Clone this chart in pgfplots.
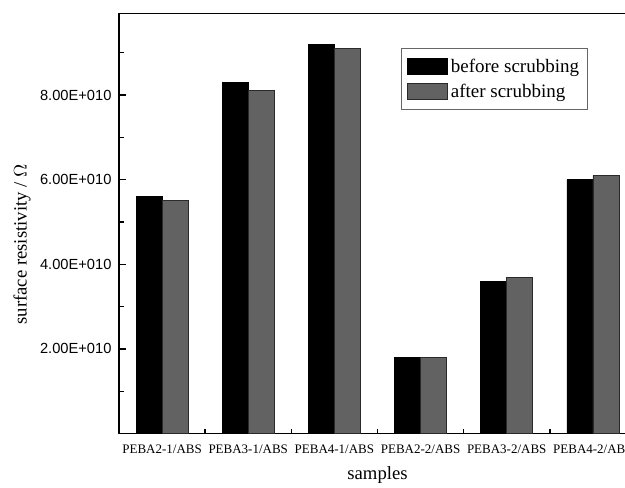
\documentclass[border=0pt]{standalone}
\usepackage{pgfplots}
\pgfplotsset{compat=1.18}
\usepackage{fontspec}
\setmainfont{Liberation Serif}
\newfontfamily\arial{Liberation Sans}
\definecolor{bargray}{HTML}{626262}
\definecolor{edgegray}{HTML}{2A2A2A}
\begin{document}
\begin{tikzpicture}
\begin{axis}[
  scale only axis, width=310.2pt, height=252pt,
  at={(0,0)}, anchor=south west,
  ybar=0pt, bar width=15.6pt,
  xmin=-0.5, xmax=5.5, ymin=0, ymax=9.93e10,
  xtick={0,...,5},
  xticklabels={PEBA2-1/ABS,PEBA3-1/ABS,PEBA4-1/ABS,PEBA2-2/ABS,PEBA3-2/ABS,PEBA4-2/ABS},
  major x tick style={draw=none},
  minor xtick={0.5,1.5,2.5,3.5,4.5},
  ytick={2e10,4e10,6e10,8e10},
  yticklabels={2.00E+010,4.00E+010,6.00E+010,8.00E+010},
  minor ytick={1e10,3e10,5e10,7e10,9e10},
  scaled y ticks=false,
  xtick pos=bottom, ytick pos=left,
  tick align=inside,
  major tick length=4.2pt, minor tick length=3pt,
  every tick/.style={black, line width=0.8pt},
  axis line style={line width=0.9pt},
  yticklabel style={font=\arial\fontsize{8.8}{10}\selectfont, xshift=-1pt},
  xticklabel style={font=\fontsize{7.8}{9}\selectfont, yshift=-3.5pt},
  xlabel={samples},
  ylabel={surface resistivity / $\Omega$},
  label style={font=\fontsize{11.2}{13}\selectfont},
  xlabel style={at={(axis description cs:0.5,-0.1)}, anchor=center},
  ylabel style={at={(axis description cs:-0.1876,0.45)}, anchor=center},
  legend style={at={(0.907,0.9175)}, anchor=north east, draw=gray!80!black, line width=0.6pt,
    font=\fontsize{11.4}{13}\selectfont, row sep=1.5pt, inner xsep=3pt, inner ysep=4pt},
  legend cell align=left,
  legend image code/.code={\draw[#1, line width=0.5pt] (0pt,-4.8pt) rectangle (24pt,4.8pt);},
]
\addplot[fill=black, draw=black, line width=0.5pt] coordinates {(0,5.6e10) (1,8.3e10) (2,9.2e10) (3,1.8e10) (4,3.6e10) (5,6.0e10)};
\addplot[fill=bargray, draw=edgegray, line width=0.5pt] coordinates {(0,5.5e10) (1,8.1e10) (2,9.1e10) (3,1.8e10) (4,3.7e10) (5,6.1e10)};
\legend{before scrubbing, after scrubbing}
\end{axis}
\pgfresetboundingbox
\useasboundingbox (-71.4pt,-32.1pt) rectangle (303.6pt,260.1pt);
\end{tikzpicture}
\end{document}
